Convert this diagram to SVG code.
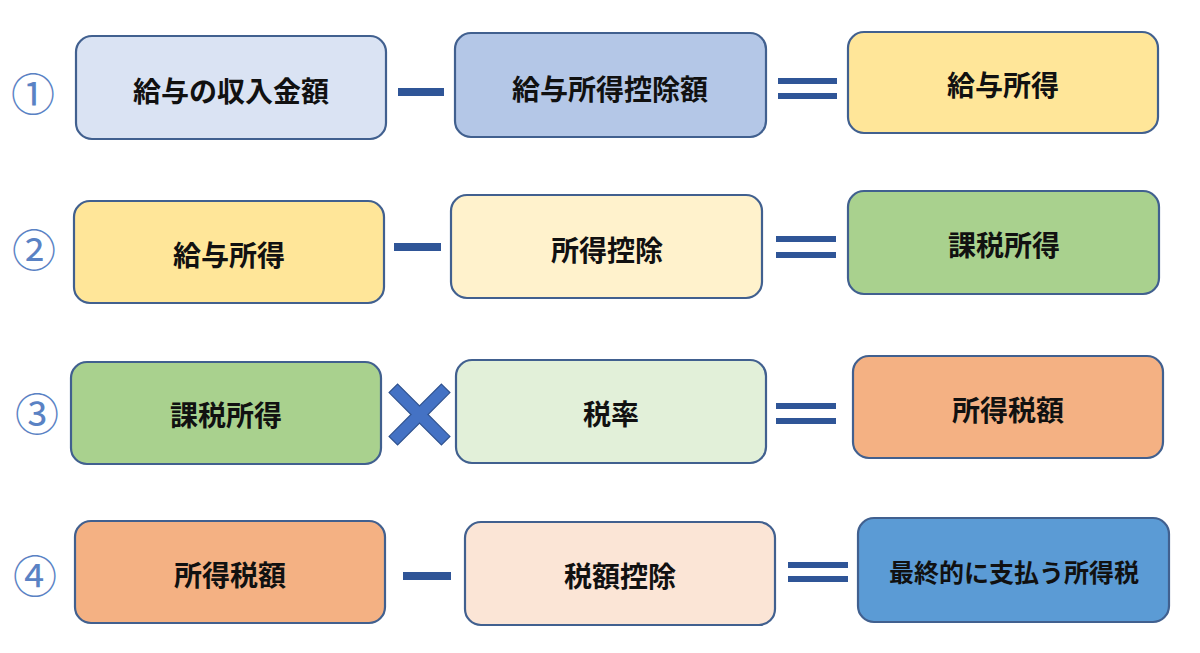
<svg xmlns="http://www.w3.org/2000/svg" width="1200" height="653" viewBox="0 0 1200 653">
<style>
.box{stroke:#41608f;stroke-width:2.2}
.t{font-family:"Noto Sans CJK JP","Noto Sans",sans-serif;font-weight:bold;font-size:28px;fill:#111;text-anchor:middle;dominant-baseline:central}
.num{font-family:"Noto Sans CJK JP",sans-serif;font-size:44px;fill:#5a82c4;text-anchor:middle;dominant-baseline:central}
.op{fill:#2f5597}
</style>
<rect width="1200" height="653" fill="#ffffff"/>
<g id="labels">
<text class="num" x="33" y="92">①</text>
<text class="num" x="34" y="248">②</text>
<text class="num" x="37" y="412">③</text>
<text class="num" x="35" y="574">④</text>
</g>
<g id="row1">
<g id="n1a"><rect class="box" x="76" y="36" width="310" height="103" rx="16" fill="#dae3f3"/><text class="t" x="231" y="90">給与の収入金額</text></g>
<g id="n1b"><rect class="box" x="455" y="33" width="311" height="104" rx="16" fill="#b4c7e7"/><text class="t" x="610" y="88">給与所得控除額</text></g>
<g id="n1c"><rect class="box" x="848" y="32" width="310" height="101" rx="16" fill="#ffe699"/><text class="t" x="1003" y="84">給与所得</text></g>
</g>
<g id="row2">
<g id="n2a"><rect class="box" x="74" y="201" width="310" height="102" rx="16" fill="#ffe699"/><text class="t" x="229" y="254">給与所得</text></g>
<g id="n2b"><rect class="box" x="451" y="195" width="311" height="103" rx="16" fill="#fff2cc"/><text class="t" x="607" y="249">所得控除</text></g>
<g id="n2c"><rect class="box" x="848" y="191" width="311" height="103" rx="16" fill="#a9d18e"/><text class="t" x="1004" y="244">課税所得</text></g>
</g>
<g id="row3">
<g id="n3a"><rect class="box" x="71" y="362" width="310" height="102" rx="16" fill="#a9d18e"/><text class="t" x="226" y="414">課税所得</text></g>
<g id="n3b"><rect class="box" x="456" y="360" width="310" height="103" rx="16" fill="#e2f0d9"/><text class="t" x="611" y="413">税率</text></g>
<g id="n3c"><rect class="box" x="853" y="356" width="310" height="102" rx="16" fill="#f4b183"/><text class="t" x="1008" y="409">所得税額</text></g>
</g>
<g id="row4">
<g id="n4a"><rect class="box" x="75" y="521" width="310" height="102" rx="16" fill="#f4b183"/><text class="t" x="230" y="574">所得税額</text></g>
<g id="n4b"><rect class="box" x="465" y="522" width="310" height="103" rx="16" fill="#fbe5d6"/><text class="t" x="620" y="575">税額控除</text></g>
<g id="n4c"><rect class="box" x="858" y="518" width="311" height="104" rx="16" fill="#5b9bd5"/><text class="t" x="1014" y="571" style="font-size:25px">最終的に支払う所得税</text></g>
</g>
<g id="connectors">
<rect class="op" x="398" y="88" width="46" height="8"/>
<rect class="op" x="778" y="78" width="59" height="6"/>
<rect class="op" x="778" y="93" width="59" height="6"/>
<rect class="op" x="394" y="243" width="47" height="8"/>
<rect class="op" x="776" y="236" width="60" height="6"/>
<rect class="op" x="776" y="252" width="60" height="6"/>
<g transform="translate(419.5 414.5) rotate(45)" fill="#4472c4" stroke="#2f528f" stroke-width="1.2">
<path d="M-6,-37 H6 V-6 H37 V6 H6 V37 H-6 V6 H-37 V-6 H-6 Z"/>
</g>
<rect class="op" x="776" y="403" width="60" height="6"/>
<rect class="op" x="776" y="418" width="60" height="6"/>
<rect class="op" x="403" y="572" width="48" height="8"/>
<rect class="op" x="788" y="562" width="60" height="6"/>
<rect class="op" x="788" y="576" width="60" height="6"/>
</g>
</svg>
